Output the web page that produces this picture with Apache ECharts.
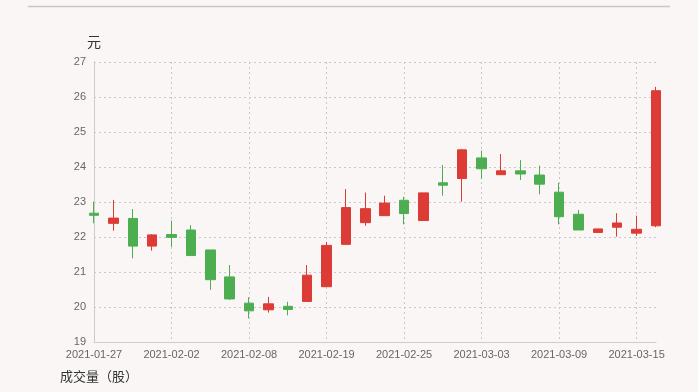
<!DOCTYPE html>
<html>
<head>
<meta charset="utf-8">
<script src="https://cdn.jsdelivr.net/npm/echarts@6/dist/echarts.min.js"></script>
<style>
html,body{margin:0;padding:0;background:#faf6f6;}
#chart{width:698px;height:392px;}
</style>
</head>
<body>
<div id="chart"></div>
<script>
var dates = ['2021-01-27','2021-01-28','2021-01-29','2021-02-01','2021-02-02','2021-02-03','2021-02-04','2021-02-05','2021-02-08','2021-02-09','2021-02-10','2021-02-18','2021-02-19','2021-02-22','2021-02-23','2021-02-24','2021-02-25','2021-02-26','2021-03-01','2021-03-02','2021-03-03','2021-03-04','2021-03-05','2021-03-08','2021-03-09','2021-03-10','2021-03-11','2021-03-12','2021-03-15','2021-03-16'];
var opens  = [22.68,22.39,22.53,21.74,22.07,22.20,21.63,20.86,20.11,19.92,20.02,20.16,20.58,21.79,22.41,22.61,23.05,22.47,23.55,23.67,24.26,23.78,23.89,23.77,23.28,22.65,22.13,22.28,22.11,22.32];
var closes = [22.62,22.54,21.74,22.06,21.99,21.47,20.78,20.23,19.89,20.09,19.93,20.91,21.76,22.84,22.81,22.97,22.67,23.26,23.48,24.49,23.95,23.89,23.80,23.51,22.58,22.20,22.23,22.40,22.22,26.18];
var lows   = [22.39,22.18,21.39,21.61,21.72,21.47,20.49,20.20,19.68,19.84,19.76,20.16,20.58,21.79,22.32,22.61,22.36,22.47,23.18,23.01,23.66,23.78,23.63,23.22,22.36,22.20,22.13,22.01,22.03,22.28];
var highs  = [23.01,23.06,22.80,22.08,22.47,22.34,21.63,21.20,20.28,20.29,20.15,21.20,21.86,23.37,23.27,23.18,23.15,23.26,24.06,24.51,24.47,24.37,24.20,24.04,23.55,22.77,22.23,22.68,22.61,26.29];
var yUnit = '元';
var volumeTitle = '成交量（股）';

var kdata = dates.map(function(d, i){ return [opens[i], closes[i], lows[i], highs[i]]; });

var chart = echarts.init(document.getElementById('chart'));
var font = "'Liberation Sans', 'Noto Sans CJK SC', sans-serif";
chart.setOption({
  backgroundColor: '#faf6f6',
  animation: false,
  grid: {left: 94, right: 42, top: 62, bottom: 50},
  xAxis: {
    type: 'category',
    data: dates,
    boundaryGap: false,
    axisLine: {lineStyle: {color: '#cccccc'}},
    axisTick: {show: false},
    axisLabel: {interval: 3, color: '#666', fontSize: 11, fontFamily: font, margin: 7},
    splitLine: {show: true, interval: 3, lineStyle: {color: '#c8c8c8', type: [2, 3]}}
  },
  yAxis: {
    type: 'value',
    min: 19, max: 27, interval: 1,
    axisLine: {show: true, lineStyle: {color: '#cccccc'}},
    axisTick: {show: false},
    axisLabel: {color: '#666', fontSize: 11, fontFamily: font, margin: 8},
    splitLine: {lineStyle: {color: '#c8c8c8', type: [2, 3]}}
  },
  graphic: [
    {type: 'line', shape: {x1: 28, y1: 6.5, x2: 670, y2: 6.5}, style: {stroke: '#c9c5c5', lineWidth: 1.5}},
    {type: 'text', left: 87, top: 36, style: {text: yUnit, fontSize: 14, fill: '#333', fontFamily: font}},
    {type: 'text', left: 60, top: 371, style: {text: volumeTitle, fontSize: 13, fill: '#333', fontFamily: font}}
  ],
  series: [{
    type: 'candlestick',
    data: kdata,
    barWidth: 10,
    clip: false,
    itemStyle: {
      color: '#dd3b36', color0: '#4cae50',
      borderColor: '#dd3b36', borderColor0: '#4cae50', borderWidth: 1
    }
  }]
});
</script>
</body>
</html>
